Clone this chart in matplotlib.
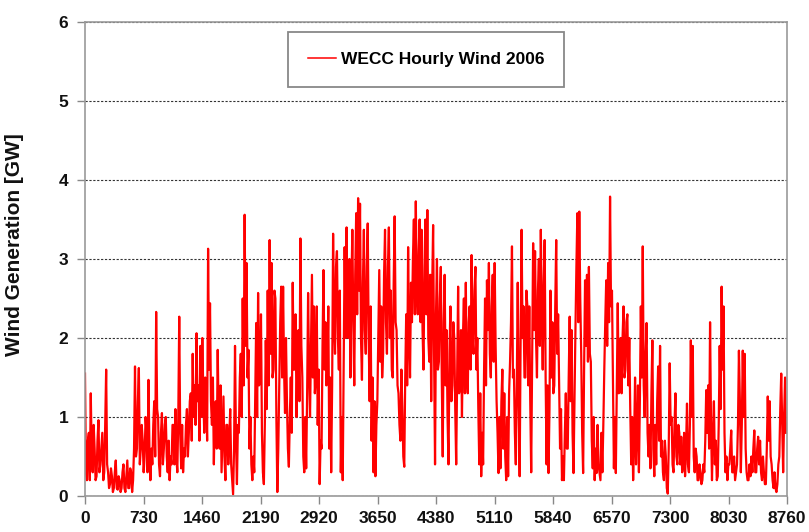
import numpy as np
import matplotlib
matplotlib.use("Agg")
import matplotlib.pyplot as plt

plt.rcParams['font.family'] = ['Liberation Sans', 'DejaVu Sans']

series_name = "WECC Hourly Wind 2006"
y_label = "Wind Generation [GW]"
x_ticks = [0, 730, 1460, 2190, 2920, 3650, 4380, 5110, 5840, 6570, 7300, 8030, 8760]
y_ticks = [0, 1, 2, 3, 4, 5, 6]
hours_between_readings = 12

# Values (GW): two readings per day of the year,
# "am" = first half of each day, "pm" = second half of each day.
am_a = [1.55, 0.2, 0.8, 1.3, 0.3, 0.6, 0.25, 0.96, 0.4, 0.8, 0.3, 1.6, 0.3, 0.15, 0.25,
        0.1, 0.45, 0.08, 0.2, 0.1, 0.4, 0.05, 0.45, 0.1, 0.3, 0.2, 1.64, 0.6, 1.62, 0.6]
am_b = [0.7, 0.5, 0.8, 1.47, 0.2, 0.4, 1.2, 2.33, 1.0, 0.25, 1.05, 0.6, 1.0, 0.3, 0.2,
        0.4, 0.9, 1.1, 0.3, 2.27, 0.35, 0.3, 0.5, 1.1, 0.8, 1.3, 1.8, 1.4, 2.06, 1.4]
am_c = [1.9, 2.0, 0.8, 1.3, 3.13, 2.44, 0.9, 0.4, 1.2, 1.85, 0.6, 0.3, 1.26, 0.2, 0.9,
        0.7, 0.4, 0.02, 1.9, 0.15, 0.8, 1.8, 2.5, 3.56, 2.95, 1.85, 1.0, 0.2, 0.3, 2.19]
am_d = [2.57, 1.5, 0.8, 0.15, 1.97, 2.6, 3.24, 2.95, 1.6, 2.5, 0.05, 1.4, 2.65, 2.65,
        1.05, 1.2, 0.37, 1.5, 2.7, 1.6, 1.0, 2.1, 3.26, 1.5, 0.3, 0.35, 2.57]
am_e = [1.0, 2.8, 2.4, 1.5, 0.9, 0.15, 0.6, 2.86, 2.2, 1.6, 0.6, 0.3, 3.32, 1.8, 3.1,
        1.6, 0.3, 0.2, 3.15, 3.4, 2.0, 1.5, 3.37, 1.4, 3.58, 3.77, 3.7, 1.47, 3.37, 1.8,
        3.45, 1.2, 0.7]
am_f = [0.3, 0.25, 1.2, 2.86, 2.4, 1.8, 3.37, 1.8, 3.4, 2.6, 1.5, 3.54, 2.1, 1.3, 0.7,
        1.1, 0.37, 2.3, 3.15, 1.5, 2.2, 3.5, 3.73, 2.3, 3.5]
am_g = [3.37, 1.6, 3.5, 3.62, 1.7, 1.2, 3.43, 0.4, 3.0, 1.7, 2.9, 0.5, 2.8, 2.1, 0.4,
        2.4, 1.4, 2.0, 0.4, 2.65, 1.4, 1.0, 2.5, 2.7, 1.3, 2.4, 3.05, 1.8, 2.9, 2.0,
        0.4, 0.25, 0.4, 2.5, 2.73, 2.95, 1.5, 2.8, 2.95, 1.2, 0.29, 0.35, 1.6, 1.3, 0.2,
        0.25, 1.7, 3.16, 1.6, 0.4, 2.7, 0.25, 3.37, 2.4, 1.5, 2.4]
am_h = [2.4, 0.3, 3.2, 3.1, 1.5, 3.0, 3.37, 1.6, 3.24, 0.4, 0.29, 2.6, 2.2, 1.4, 3.24,
        2.3, 0.6, 0.2, 0.2, 1.3, 0.6, 2.27, 2.1, 0.29, 2.1, 3.58, 3.6, 1.8, 0.29, 2.73,
        2.8, 2.9, 1.7, 0.35, 0.2, 0.29, 0.4, 0.2, 0.3, 1.6, 2.73, 2.95, 3.79, 2.6, 0.35,
        0.29, 2.44, 1.7, 1.3, 2.4, 1.6, 2.3, 2.0, 0.4, 0.2, 1.5, 0.8]
am_i = [0.3, 2.4, 3.16, 1.0, 2.19, 0.5, 0.35, 1.97, 0.25, 0.4, 1.64, 1.9, 0.7, 0.2, 0.5,
        0.03, 1.68, 1.0, 0.3, 1.3, 0.4, 0.8, 0.75, 0.4, 0.25, 1.17, 0.3, 1.97, 1.9, 0.3,
        0.5, 0.2, 0.3, 0.2, 0.3, 1.34, 1.4, 2.2, 0.2, 1.2, 0.7, 0.25, 1.9, 2.65, 2.4,
        0.3, 0.2, 0.4, 0.83, 0.3, 0.2, 0.4, 1.84, 0.3, 1.84, 1.8, 0.3, 0.2]
am_j = [0.25, 0.3, 0.83, 0.3, 0.75, 0.7, 0.2, 0.3, 0.15, 1.26, 1.2, 0.4, 0.1, 0.1, 0.15,
        0.5, 1.55, 0.3, 1.5]

pm_a = [0.3, 0.7, 0.2, 0.5, 0.9, 0.2, 0.7, 0.3, 0.6, 0.2, 0.9, 0.4, 0.1, 0.35, 0.05,
        0.3, 0.1, 0.25, 0.05, 0.3, 0.1, 0.25, 0.1, 0.35, 0.05, 0.6, 0.5, 1.2, 0.4, 0.9]
pm_b = [0.3, 1.0, 0.3, 0.6, 0.6, 0.9, 0.5, 1.1, 0.4, 0.8, 0.4, 0.9, 0.5, 0.7, 0.5,
        0.9, 0.4, 0.5, 1.0, 0.8, 0.9, 0.6, 0.9, 0.5, 1.2, 0.7, 1.0, 0.9, 1.2, 0.7]
pm_c = [1.0, 1.3, 1.5, 0.7, 1.6, 1.2, 1.5, 1.1, 0.6, 1.0, 1.4, 0.8, 0.5, 0.9, 0.4,
        1.1, 0.2, 0.6, 0.7, 0.9, 1.5, 1.0, 1.4, 1.9, 1.5, 0.6, 0.4, 0.5, 1.2, 1.0]
pm_d = [1.4, 2.3, 0.3, 0.9, 1.1, 1.4, 1.8, 1.5, 2.6, 1.0, 0.6, 2.2, 1.5, 1.6, 2.0,
        0.6, 1.0, 0.8, 1.6, 2.3, 1.8, 1.2, 1.9, 0.5, 1.0, 1.3, 1.6]
pm_e = [1.9, 1.5, 1.3, 2.4, 1.6, 0.7, 1.9, 1.6, 1.4, 2.4, 1.5, 1.4, 2.2, 2.9, 2.0,
        2.6, 1.0, 1.6, 2.0, 2.3, 3.0, 2.6, 2.2, 2.8, 2.3, 2.6, 2.0, 2.7, 2.1, 2.9,
        2.0, 2.4, 1.5]
pm_f = [1.2, 0.9, 2.0, 1.7, 1.5, 2.8, 2.2, 2.9, 2.0, 1.6, 2.7, 2.2, 1.4, 0.9, 1.6,
        0.5, 1.5, 1.4, 2.0, 2.7, 3.0, 2.3, 2.6, 3.1, 2.2]
pm_g = [2.1, 2.9, 2.3, 2.0, 2.8, 2.6, 1.8, 2.3, 1.6, 2.5, 1.5, 2.2, 1.4, 1.0, 1.8,
        1.2, 2.2, 1.1, 1.5, 1.3, 2.1, 2.0, 1.3, 1.5, 2.2, 1.6, 2.0, 2.6, 1.6, 1.1,
        1.3, 0.8, 1.6, 1.4, 2.1, 1.8, 2.4, 1.7, 1.9, 0.8, 1.0, 1.2, 0.6, 0.5, 1.0,
        1.3, 2.2, 1.5, 0.8, 1.4, 1.2, 2.0, 2.0, 1.5, 2.6, 1.4]
pm_h = [1.2, 1.8, 2.1, 2.0, 2.6, 1.9, 2.3, 2.7, 1.5, 1.4, 1.1, 1.5, 1.3, 2.4, 1.8,
        1.4, 1.1, 0.5, 0.8, 0.6, 1.5, 1.2, 0.8, 1.2, 2.9, 2.2, 2.5, 0.8, 1.6, 1.9,
        1.7, 1.8, 0.7, 1.0, 0.6, 0.9, 0.3, 0.8, 0.9, 2.2, 1.9, 2.2, 2.4, 1.5, 1.0,
        1.4, 1.3, 2.0, 2.0, 1.5, 2.2, 1.4, 1.1, 1.0, 0.7, 0.4, 1.4]
pm_i = [1.2, 1.5, 1.4, 1.8, 0.8, 0.9, 1.3, 0.6, 0.9, 1.2, 0.7, 0.5, 0.3, 0.7, 0.1,
        0.6, 0.9, 0.4, 0.9, 0.5, 0.9, 0.4, 0.3, 0.8, 0.6, 0.4, 0.9, 1.0, 0.5, 0.6,
        0.2, 0.4, 0.15, 0.4, 0.7, 0.8, 0.6, 0.9, 0.8, 0.4, 0.2, 0.9, 1.1, 1.6, 0.8,
        0.5, 0.4, 0.6, 0.3, 0.5, 0.3, 0.9, 1.2, 0.9, 1.0, 0.6, 0.2, 0.4]
pm_j = [0.5, 0.6, 0.3, 0.6, 0.4, 0.3, 0.5, 0.15, 0.6, 0.7, 0.5, 0.2, 0.3, 0.05, 0.4,
        1.1, 0.9, 1.0, 0.8]

wind_am = am_a + am_b + am_c + am_d + am_e + am_f + am_g + am_h + am_i + am_j
wind_pm = pm_a + pm_b + pm_c + pm_d + pm_e + pm_f + pm_g + pm_h + pm_i + pm_j
wind_gw = np.column_stack([wind_am, wind_pm]).ravel()
hours = np.arange(len(wind_gw)) * hours_between_readings

fig = plt.figure(figsize=(8.09, 5.32), dpi=100)
ax = fig.add_axes([85 / 809, 36 / 532, 702 / 809, 474 / 532])

ax.plot(hours, wind_gw, color='#ff0000', lw=1.6, label=series_name, zorder=3)

ax.set_xlim(0, 8760)
ax.set_ylim(0, 6)
ax.set_xticks(x_ticks)
ax.set_yticks(y_ticks)
ax.tick_params(axis='both', direction='out', length=6, width=1, color='#888888',
               labelsize=12.5, labelcolor='#111111')
ax.tick_params(axis='y', pad=6)
ax.tick_params(axis='x', pad=5)
for lab in ax.get_xticklabels() + ax.get_yticklabels():
    lab.set_fontweight('bold')

ax.yaxis.grid(True, color='#333333', linestyle=(0, (2, 1.5)), lw=0.8, zorder=1)
ax.set_axisbelow(True)
for s in ax.spines.values():
    s.set_color('#999999')
    s.set_linewidth(1.2)
    s.set_zorder(4)

ax.set_ylabel(y_label, fontsize=15, fontweight='bold', color='#111111')
ax.yaxis.set_label_coords(-0.087, 0.53)

leg = ax.legend(loc='upper center', bbox_to_anchor=(0.486, 0.979), frameon=True,
                fancybox=False, edgecolor='#888888', framealpha=1,
                prop={'weight': 'bold', 'size': 12.5}, handlelength=1.6,
                handletextpad=0.3, borderpad=1.15, borderaxespad=0)
leg.get_frame().set_linewidth(1.3)
for h in leg.get_lines():
    h.set_linewidth(1.1)

fig.savefig('out.png', dpi=100)
